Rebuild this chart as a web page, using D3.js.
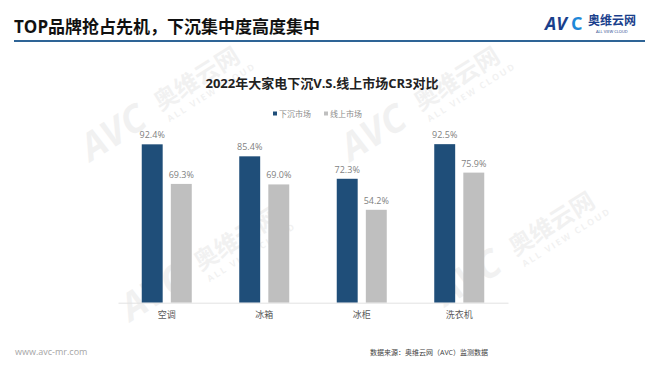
<!DOCTYPE html>
<html>
<head>
<meta charset="utf-8">
<script src="https://cdn.jsdelivr.net/npm/d3@7"></script>
<style>
  body { margin: 0; background: #fff; }
  svg { display: block; font-family: "Open Sans", "Noto Sans CJK SC", sans-serif; }
</style>
</head>
<body>
<div id="chart"></div>
<script>
// chart data
var categories = ["空调", "冰箱", "冰柜", "洗衣机"];
var seriesNames = ["下沉市场", "线上市场"];
var sinkValues = [92.4, 85.4, 72.3, 92.5];
var onlineValues = [69.3, 69.0, 54.2, 75.9];
var colors = ["#1f4e79", "#bfbfbf"];

var W = 660, H = 372;
var svg = d3.select("#chart").append("svg")
    .attr("width", W)
    .attr("height", H);

// faint watermarks behind everything
var marks = [[150, 125], [410, 125], [190, 285], [505, 270]];
var wm = svg.selectAll(".wm")
    .data(marks)
    .enter().append("g")
    .attr("class", "wm")
    .attr("transform", function(d) { return "translate(" + d[0] + "," + d[1] + ") rotate(-32)"; })
    .style("opacity", 0.05);
wm.append("text")
    .attr("x", -70).attr("y", 0)
    .attr("font-size", 38).attr("font-weight", "bold").attr("font-style", "italic")
    .attr("fill", "#000")
    .text("AVC");
wm.append("text")
    .attr("x", 16).attr("y", -6)
    .attr("font-size", 24).attr("font-weight", "bold")
    .attr("fill", "#000")
    .text("奥维云网");
wm.append("text")
    .attr("x", 18).attr("y", 8)
    .attr("font-size", 9).attr("font-weight", "bold")
    .attr("letter-spacing", 2)
    .attr("fill", "#000")
    .text("ALL VIEW CLOUD");

// header
svg.append("text")
    .attr("x", 14).attr("y", 33)
    .attr("font-size", 17).attr("font-weight", "bold")
    .attr("fill", "#111")
    .text("TOP品牌抢占先机，下沉集中度高度集中");

svg.append("line")
    .attr("x1", 14).attr("x2", 645)
    .attr("y1", 41).attr("y2", 41)
    .attr("stroke", "#2e6496").attr("stroke-width", 2);

// logo
var logo = svg.append("g").attr("transform", "translate(545,0)");
logo.append("text")
    .attr("x", 0).attr("y", 30)
    .attr("font-size", 18).attr("font-weight", "bold").attr("font-style", "italic")
    .attr("fill", "#1a3f8c")
    .text("AV");
logo.append("text")
    .attr("x", 26).attr("y", 30)
    .attr("font-size", 18).attr("font-weight", "bold")
    .attr("fill", "#1e88d8")
    .text("C");
logo.append("text")
    .attr("x", 43).attr("y", 25)
    .attr("font-size", 12).attr("font-weight", "bold")
    .attr("fill", "#1a3f8c")
    .text("奥维云网");
logo.append("text")
    .attr("x", 51).attr("y", 33)
    .attr("font-size", 4)
    .attr("fill", "#1a3f8c")
    .text("ALL VIEW CLOUD");

// chart title + legend
svg.append("text")
    .attr("x", 322).attr("y", 88)
    .attr("text-anchor", "middle")
    .attr("font-size", 13).attr("font-weight", "bold")
    .attr("fill", "#222")
    .text("2022年大家电下沉V.S.线上市场CR3对比");

var legendX = [273, 324];
var legend = svg.selectAll(".legend")
    .data(seriesNames)
    .enter().append("g")
    .attr("class", "legend")
    .attr("transform", function(d, i) { return "translate(" + legendX[i] + ",114)"; });
legend.append("rect")
    .attr("x", 0).attr("y", -2.5)
    .attr("width", 4).attr("height", 4)
    .attr("fill", function(d, i) { return colors[i]; });
legend.append("text")
    .attr("x", 6).attr("y", 3)
    .attr("font-size", 8)
    .attr("fill", "#8c8c8c")
    .text(function(d) { return d; });

// scales
var x0 = d3.scaleBand()
    .domain(categories)
    .range([118, 508]);
var x1 = d3.scaleBand()
    .domain(seriesNames)
    .range([x0.bandwidth() / 2 - 25, x0.bandwidth() / 2 + 25])
    .paddingInner(0.28);
var y = d3.scaleLinear()
    .domain([0, 100])
    .range([302.7, 131.3]);

var rows = categories.map(function(c, i) {
    return { cat: c, vals: [
        { name: seriesNames[0], v: sinkValues[i] },
        { name: seriesNames[1], v: onlineValues[i] }
    ]};
});

var groups = svg.selectAll(".grp")
    .data(rows)
    .enter().append("g")
    .attr("class", "grp")
    .attr("transform", function(d) { return "translate(" + x0(d.cat) + ",0)"; });

groups.selectAll("rect")
    .data(function(d) { return d.vals; })
    .enter().append("rect")
    .attr("x", function(d) { return x1(d.name); })
    .attr("y", function(d) { return y(d.v); })
    .attr("width", x1.bandwidth())
    .attr("height", function(d) { return y(0) - y(d.v); })
    .attr("fill", function(d, i) { return colors[i]; });

groups.selectAll(".val")
    .data(function(d) { return d.vals; })
    .enter().append("text")
    .attr("class", "val")
    .attr("x", function(d) { return x1(d.name) + x1.bandwidth() / 2; })
    .attr("y", function(d) { return y(d.v) - 6; })
    .attr("text-anchor", "middle")
    .attr("font-size", 9)
    .attr("fill", "#7f7f7f")
    .text(function(d) { return d.v.toFixed(1) + "%"; });

// x axis
var xAxis = d3.axisBottom(x0).tickSize(0).tickPadding(9);
var gx = svg.append("g")
    .attr("transform", "translate(0," + y(0) + ")")
    .call(xAxis);
gx.select(".domain").attr("stroke", "#e3e3e3");
gx.selectAll("text")
    .attr("font-size", 9)
    .attr("fill", "#595959")
    .style("font-family", "'Noto Sans CJK SC', sans-serif");

// footer
svg.append("text")
    .attr("x", 15).attr("y", 355)
    .attr("font-size", 9)
    .attr("fill", "#a6a6a6")
    .text("www.avc-mr.com");
svg.append("text")
    .attr("x", 488).attr("y", 355)
    .attr("text-anchor", "end")
    .attr("font-size", 7)
    .attr("fill", "#404040")
    .text("数据来源：奥维云网（AVC）监测数据");
</script>
</body>
</html>
